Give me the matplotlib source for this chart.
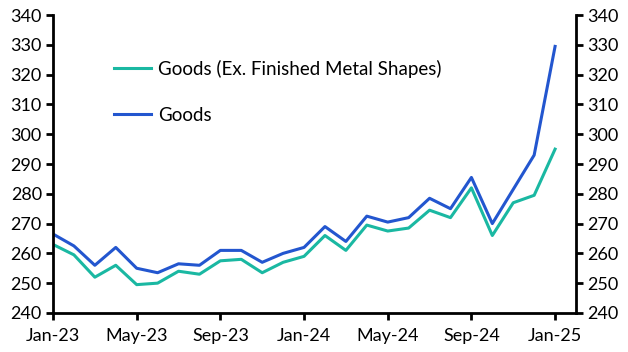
import matplotlib
matplotlib.use("Agg")
import matplotlib.pyplot as plt

plt.rcParams['font.family'] = ['Lato', 'DejaVu Sans']

months = ["Jan-23", "Feb-23", "Mar-23", "Apr-23", "May-23", "Jun-23", "Jul-23", "Aug-23",
          "Sep-23", "Oct-23", "Nov-23", "Dec-23", "Jan-24", "Feb-24", "Mar-24", "Apr-24",
          "May-24", "Jun-24", "Jul-24", "Aug-24", "Sep-24", "Oct-24", "Nov-24", "Dec-24", "Jan-25"]
goods = [266.5, 262.5, 256, 262, 255, 253.5, 256.5, 256, 261, 261, 257, 260,
         262, 269, 264, 272.5, 270.5, 272, 278.5, 275, 285.5, 270, 281.5, 293, 329.5]
goods_ex = [263, 259.5, 252, 256, 249.5, 250, 254, 253, 257.5, 258, 253.5, 257,
            259, 266, 261, 269.5, 267.5, 268.5, 274.5, 272, 282, 266, 277, 279.5, 295]
tick_labels = ["Jan-23", "May-23", "Sep-23", "Jan-24", "May-24", "Sep-24", "Jan-25"]
yticks = list(range(240, 341, 10))

teal = "#1ab8a2"
blue = "#2356cf"

fig = plt.figure(figsize=(6.28, 3.52), dpi=100)
ax = fig.add_axes([0.0844, 0.111, 0.8328, 0.846])
x = list(range(len(months)))
ax.plot(x, goods_ex, color=teal, lw=2.2, label="Goods (Ex. Finished Metal Shapes)")
ax.plot(x, goods, color=blue, lw=2.2, label="Goods")

ax.set_xlim(0, 25)
ax.set_ylim(240, 340)
ax.set_yticks(yticks)
ax.set_xticks([months.index(t) for t in tick_labels])
ax.set_xticklabels(tick_labels)

for s in ["left", "right", "bottom"]:
    ax.spines[s].set_linewidth(2.0)
    ax.spines[s].set_color("black")
ax.spines["top"].set_visible(False)
ax.tick_params(axis="both", labelsize=13, width=2, length=5, direction="out", colors="black")
ax.tick_params(axis="y", right=True, labelright=True, pad=3)
ax.tick_params(axis="x", pad=6)

ax.legend(loc="upper left", bbox_to_anchor=(0.102, 0.875), frameon=False, fontsize=13.5,
          handlelength=2.0, handletextpad=0.35, labelspacing=1.55, borderaxespad=0)

fig.savefig("out.png", dpi=100)
